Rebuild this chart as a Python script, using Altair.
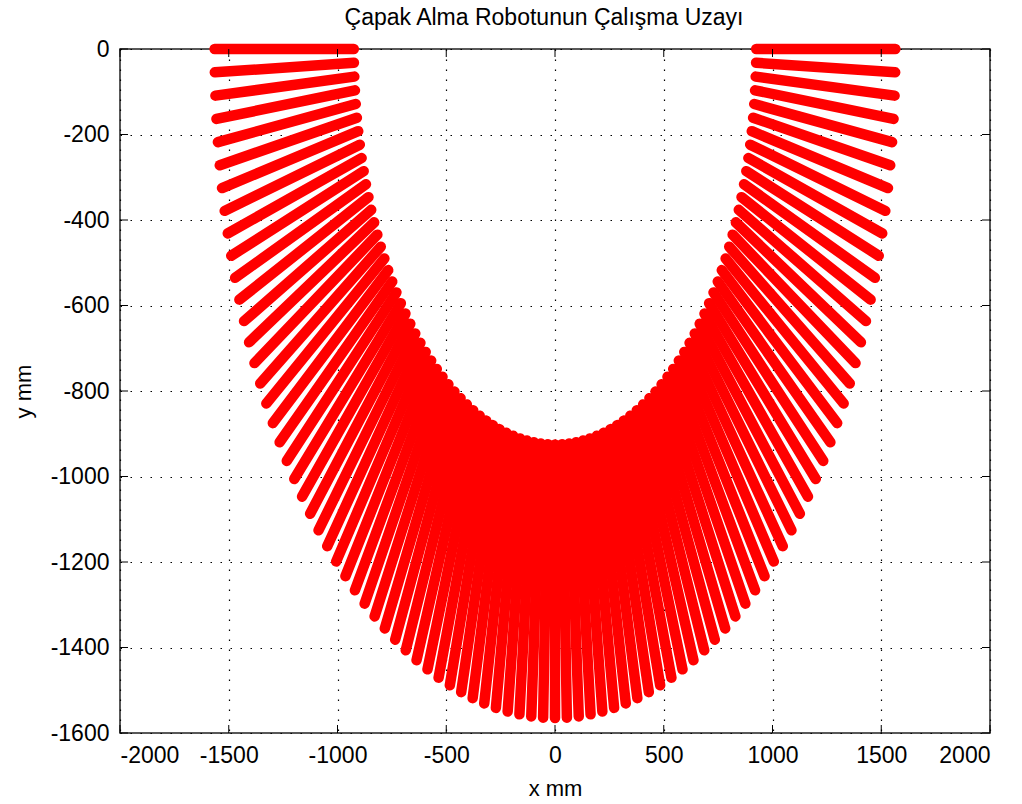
import math
import altair as alt
import pandas as pd

# ---- data ----
angles_deg = [0, 2, 4, 6, 8, 10, 12, 14, 16, 18, 20, 22, 24, 26, 28, 30, 32, 34, 36, 38,
              40, 42, 44, 46, 48, 50, 52, 54, 56, 58, 60, 62, 64, 66, 68, 70, 72, 74, 76, 78,
              80, 82, 84, 86, 88, 90, 92, 94, 96, 98, 100, 102, 104, 106, 108, 110, 112, 114,
              116, 118, 120, 122, 124, 126, 128, 130, 132, 134, 136, 138, 140, 142, 144, 146,
              148, 150, 152, 154, 156, 158, 160, 162, 164, 166, 168, 170, 172, 174, 176, 178, 180]
radii = [925, 1565]          # inner / outer reach (mm)
x_ticks = [-2000, -1500, -1000, -500, 0, 500, 1000, 1500, 2000]
y_ticks = [-1600, -1400, -1200, -1000, -800, -600, -400, -200, 0]

title_text = "Çapak Alma Robotunun Çalışma Uzayı"
FONT = "Liberation Sans"
W, H = 870, 684

rows = []
for a in angles_deg:
    t = math.radians(a)
    for r in radii:
        rows.append({"angle": a, "r": r, "x": r * math.cos(t), "y": -r * math.sin(t)})
rays = pd.DataFrame(rows)

xs = alt.Scale(domain=[-2000, 2000], nice=False, zero=False)
ys = alt.Scale(domain=[-1600, 0], nice=False, zero=False)

base = alt.Chart(rays).mark_line(
    color="#ff0000", strokeWidth=10.5, strokeCap="round", clip=False
).encode(
    x=alt.X("x:Q", scale=xs, title="x mm",
            axis=alt.Axis(values=x_ticks, labelExpr="datum.value + ''", grid=True, ticks=False,
                          labelPadding=11, titleX=W / 2, titleY=62,
                          titleBaseline="alphabetic")),
    y=alt.Y("y:Q", scale=ys, title="y mm",
            axis=alt.Axis(values=y_ticks, labelExpr="datum.value + ''", grid=True, ticks=False,
                          labelPadding=11, titleX=-97, titleY=H / 2,
                          titleBaseline="middle", titleAlign="center", titleAngle=-90)),
    detail="angle:N",
    order="r:Q",
)

xt = pd.DataFrame({"v": x_ticks})
yt = pd.DataFrame({"v": y_ticks})
TL = 8
tick_bottom = alt.Chart(xt).mark_rule(color="black", strokeWidth=1).encode(
    x=alt.X("v:Q", scale=xs), y=alt.value(H), y2=alt.value(H - TL))
tick_top = alt.Chart(xt).mark_rule(color="black", strokeWidth=1).encode(
    x=alt.X("v:Q", scale=xs), y=alt.value(0), y2=alt.value(TL))
tick_left = alt.Chart(yt).mark_rule(color="black", strokeWidth=1).encode(
    y=alt.Y("v:Q", scale=ys), x=alt.value(0), x2=alt.value(TL))
tick_right = alt.Chart(yt).mark_rule(color="black", strokeWidth=1).encode(
    y=alt.Y("v:Q", scale=ys), x=alt.value(W), x2=alt.value(W - TL))

title_layer = alt.Chart(pd.DataFrame({"t": [title_text]})).mark_text(
    font=FONT, fontSize=23, color="#000000", align="center", baseline="alphabetic"
).encode(text="t:N", x=alt.value(W / 2 - 11), y=alt.value(-24))

chart = alt.layer(base, tick_bottom, tick_top, tick_left, tick_right, title_layer).properties(
    width=W, height=H,
    autosize=alt.AutoSizeParams(type="none"),
    padding={"left": 120, "top": 49, "right": 32, "bottom": 71},
    background="white",
).configure_view(
    stroke="#222222", strokeWidth=1.5
).configure_axis(
    domain=False,
    gridColor="#000000", gridDash=[1.5, 8.5], gridWidth=1.2, gridOpacity=1,
    labelFont=FONT, labelFontSize=23, labelColor="#000000",
    titleFont=FONT, titleFontSize=22, titleColor="#000000", titleFontWeight="normal",
)

chart.save("out.html", embed_options={"renderer": "svg", "actions": False})
